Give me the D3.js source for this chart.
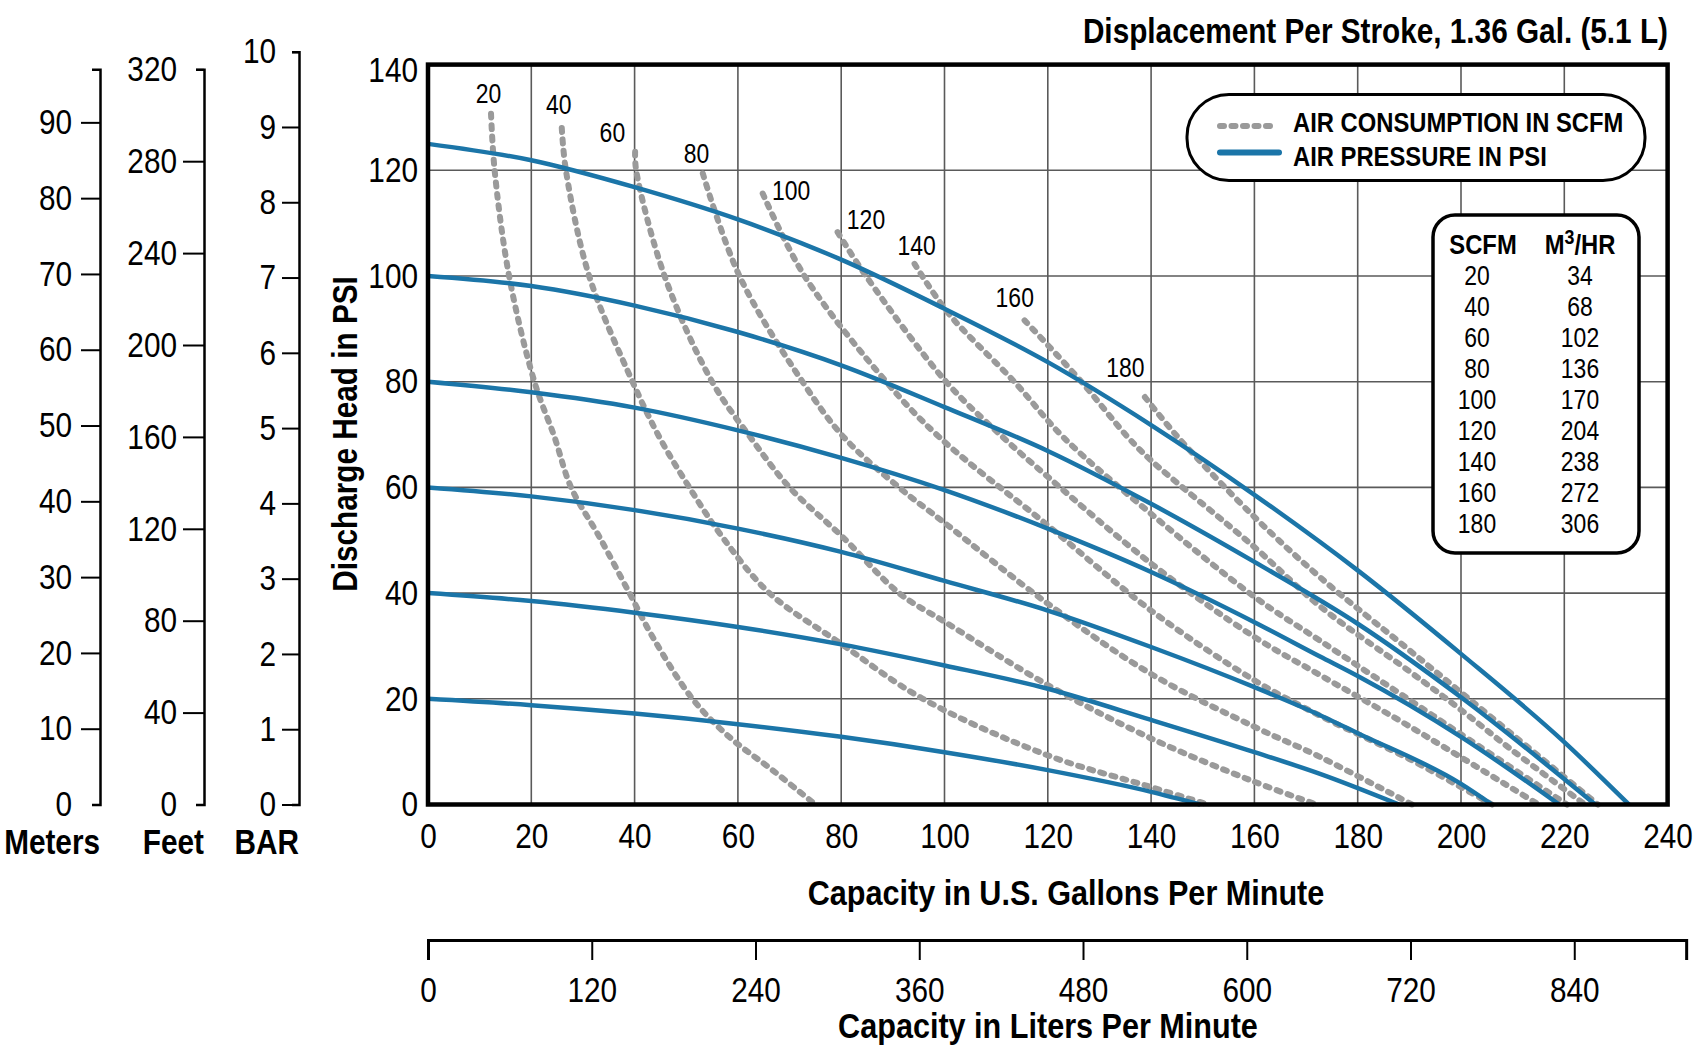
<!DOCTYPE html>
<html>
<head>
<meta charset="utf-8">
<script src="https://cdn.jsdelivr.net/npm/d3@7"></script>
<style>
  body { margin: 0; background: #fff; }
  svg text { font-family: 'Liberation Sans Narrow', 'Arial Narrow', 'Liberation Sans', sans-serif; fill: #000; }
</style>
</head>
<body>
<svg id="chart" width="1697" height="1054"></svg>
<script>
// axis ticks
const gpmTicks = [0, 20, 40, 60, 80, 100, 120, 140, 160, 180, 200, 220, 240]
const psiTicks = [0, 20, 40, 60, 80, 100, 120, 140]
const literTicks = [0, 120, 240, 360, 480, 600, 720, 840]
const meterTicks = [0, 10, 20, 30, 40, 50, 60, 70, 80, 90]
const feetTicks = [0, 40, 80, 120, 160, 200, 240, 280, 320]
const barTicks = [0, 1, 2, 3, 4, 5, 6, 7, 8, 9, 10]

// SCFM -> m3/hr table
const scfmValues = [20, 40, 60, 80, 100, 120, 140, 160, 180]
const m3hrValues = [34, 68, 102, 136, 170, 204, 238, 272, 306]

// air pressure curves, [gpm, psi]
const psi20 = [[0,20],[20,18.8],[40,17.2],[60,15.2],[80,12.8],[100,9.9],[120,6.5],[140,2.4],[149.5,0]]
const psi40 = [[0,40],[20,38.5],[40,36.3],[60,33.6],[80,30.3],[100,26.3],[120,21.9],[140,16],[160,9.9],[172.7,5.8],[188,0]]
const psi60 = [[0,60],[20,58.3],[40,55.7],[60,52.2],[80,47.8],[100,42.3],[120,36.7],[140,29.8],[160,22.2],[172.7,16.9],[180,13.5],[200,3.9],[206,0]]
const psi80 = [[0,80],[20,78],[40,75.1],[60,70.8],[80,65.6],[100,59.5],[120,52.2],[140,44],[160,34.5],[172.7,28],[180,24.3],[200,12.8],[219,0]]
const psi100 = [[0,100],[20,98.1],[40,94.4],[60,89.4],[80,83.1],[100,75.2],[120,66.9],[140,56.9],[160,45.9],[180,34.2],[200,20.3],[226,0]]
const psi125 = [[0,125],[20,121.9],[40,116.8],[60,110.7],[80,103.1],[100,93.8],[120,83.7],[140,71.8],[160,58.6],[180,44.3],[200,28.5],[220,11.8],[232.5,0]]

// air consumption curves, [gpm, psi]
const scfm20 = [[12.2,130.7],[12.9,120],[15.7,100],[20.6,80],[24.5,69.5],[27.7,60],[33.2,50.6],[39,40],[43.5,31.7],[51.2,20],[58.3,12.8],[66.7,6.5],[75,0]]
const scfm40 = [[25.9,128],[26.7,120],[31.2,100],[39.6,80],[44.8,69.5],[50.6,60],[57,50.6],[66.1,40],[80,30.4],[95.8,20],[120,9.3],[140,3.3],[151,0]]
const scfm60 = [[40.1,123.5],[40.3,120],[45.8,100],[55,80],[62.4,69.5],[70,60],[80.3,50.6],[91.2,40],[100,34.6],[120,22.6],[140,12.5],[160,4.3],[172,0]]
const scfm80 = [[53.2,119.4],[60.3,100],[72.5,80],[80.5,69.5],[91.2,60],[100,53.3],[120,38],[140,24.7],[160,14.7],[172.7,9],[190.5,0]]
const scfm100 = [[64.8,115.6],[72.9,100],[88.7,80],[99,69.5],[120,52.8],[140,36.7],[160,23.5],[172.7,16.8],[190,8.6],[206,0]]
const scfm120 = [[79.3,108.3],[84.8,100],[100.3,80],[111.3,69.5],[120,62],[140,45.6],[160,31.7],[172.7,24.5],[190,14.8],[215,0]]
const scfm140 = [[94.2,102.3],[100.7,93],[113.5,80],[123,69.5],[140,55],[160,39.3],[172.7,31],[190,19.8],[200,13.3],[220.5,0]]
const scfm160 = [[115.5,91.6],[126.5,80],[135.5,69.5],[140,65.1],[160,48.7],[172.7,37.5],[190,25.2],[200,17.9],[210,10.2],[224,0]]
const scfm180 = [[138.8,77.1],[145.2,69.5],[160,54.4],[172.7,43],[190,29.2],[200,21.2],[210,13.2],[226.5,0]]

// where each SCFM curve is labelled, [gpm, psi]
const airLabelAt = [[11.7,132.7],[25.3,130.7],[35.7,125.4],[52,121.4],[70.3,114.4],[84.8,108.8],[94.6,103.9],[113.6,94.1],[135,80.9]]

const pressureCurves = [psi20, psi40, psi60, psi80, psi100, psi125]
const airCurves = [scfm20, scfm40, scfm60, scfm80, scfm100, scfm120, scfm140, scfm160, scfm180]

const blue = '#1b75a8'
const grey = '#9a9a9a'
const litersEnd = 922
const narrow = 0.85   // no narrow face installed, squeeze the regular one

const svg = d3.select('#chart')

const x = d3.scaleLinear().domain([0, 240]).range([428, 1667.6])
const y = d3.scaleLinear().domain([0, 140]).range([804.5, 64.6])
const xL = d3.scaleLinear().domain([0, litersEnd]).range([x(0), x(litersEnd / 3.785)])

const meters = d3.scaleLinear().domain([0, 97]).range([804.5, 69.3])
const feet = d3.scaleLinear().domain([0, 320]).range([804.5, 69.3])
const bar = d3.scaleLinear().domain([0, 10]).range([804.5, 51.7])

// grid
const grid = svg.append('g').attr('stroke', '#5a5a5a').attr('stroke-width', 1.6)
grid.selectAll('line.v').data(gpmTicks.slice(1, -1)).enter().append('line')
    .attr('x1', d => x(d)).attr('x2', d => x(d)).attr('y1', y(140)).attr('y2', y(0))
grid.selectAll('line.h').data(psiTicks.slice(1, -1)).enter().append('line')
    .attr('y1', d => y(d)).attr('y2', d => y(d)).attr('x1', x(0)).attr('x2', x(240))

// legend pill
const leg = svg.append('g')
leg.append('rect').attr('x', 1187).attr('y', 94.5).attr('width', 458).attr('height', 86)
    .attr('rx', 42).attr('ry', 42).attr('fill', '#fff').attr('stroke', '#000').attr('stroke-width', 3)
leg.append('line').attr('x1', 1220).attr('x2', 1276).attr('y1', 126).attr('y2', 126)
    .attr('stroke', grey).attr('stroke-width', 6).attr('stroke-dasharray', '4 7.5').attr('stroke-linecap', 'round')
leg.append('line').attr('x1', 1220).attr('x2', 1279).attr('y1', 152.5).attr('y2', 152.5)
    .attr('stroke', blue).attr('stroke-width', 6).attr('stroke-linecap', 'round')
leg.append('text').attr('x', 1293).attr('y', 131.5).attr('font-size', 28).attr('font-weight', 'bold')
    .text('AIR CONSUMPTION IN SCFM')
leg.append('text').attr('x', 1293).attr('y', 165.5).attr('font-size', 28).attr('font-weight', 'bold')
    .text('AIR PRESSURE IN PSI')

// SCFM / M3/HR table
const tbl = svg.append('g')
tbl.append('rect').attr('x', 1433).attr('y', 215).attr('width', 206).attr('height', 338)
    .attr('rx', 22).attr('ry', 22).attr('fill', '#fff').attr('stroke', '#000').attr('stroke-width', 3.5)
tbl.append('text').attr('x', 1483).attr('y', 254).attr('text-anchor', 'middle')
    .attr('font-size', 28).attr('font-weight', 'bold').text('SCFM')
const hdr = tbl.append('text').attr('x', 1580).attr('y', 254).attr('text-anchor', 'middle')
    .attr('font-size', 28).attr('font-weight', 'bold')
hdr.append('tspan').text('M')
hdr.append('tspan').attr('dy', -10).attr('font-size', 21).text('3')
hdr.append('tspan').attr('dy', 10).text('/HR')
tbl.selectAll('text.scfm').data(scfmValues).enter().append('text')
    .attr('x', 1477).attr('y', (d, i) => 285 + i * 31).attr('text-anchor', 'middle').attr('font-size', 27)
    .text(d => d)
tbl.selectAll('text.m3').data(m3hrValues).enter().append('text')
    .attr('x', 1580).attr('y', (d, i) => 285 + i * 31).attr('text-anchor', 'middle').attr('font-size', 27)
    .text(d => d)

// curves
const line = d3.line().x(d => x(d[0])).y(d => y(d[1])).curve(d3.curveMonotoneX)
const airLine = d3.line().x(d => x(d[0])).y(d => y(d[1])).curve(d3.curveCatmullRom.alpha(0.5))

svg.append('g').selectAll('path').data(airCurves).enter().append('path')
    .attr('d', airLine).attr('fill', 'none').attr('stroke', grey).attr('stroke-width', 6)
    .attr('stroke-dasharray', '4 7.5').attr('stroke-linecap', 'round')

svg.append('g').selectAll('path').data(pressureCurves).enter().append('path')
    .attr('d', line).attr('fill', 'none').attr('stroke', blue).attr('stroke-width', 4.5)

svg.append('g').selectAll('text').data(airLabelAt).enter().append('text')
    .attr('x', d => x(d[0])).attr('y', d => y(d[1])).attr('text-anchor', 'middle').attr('font-size', 27)
    .text((d, i) => scfmValues[i])

// plot frame
svg.append('rect').attr('x', x(0)).attr('y', y(140)).attr('width', x(240) - x(0)).attr('height', y(0) - y(140))
    .attr('fill', 'none').attr('stroke', '#000').attr('stroke-width', 4.5)

// main axes, labels only
const xAxis = svg.append('g').attr('transform', `translate(0,${y(0)})`)
    .call(d3.axisBottom(x).tickValues(gpmTicks).tickSize(0).tickPadding(19))
const yAxis = svg.append('g').attr('transform', `translate(${x(0)},0)`)
    .call(d3.axisLeft(y).tickValues(psiTicks).tickSize(0).tickPadding(10))
;[xAxis, yAxis].forEach(g => {
  g.select('.domain').remove()
  g.attr('font-family', null).attr('font-size', null)
  g.selectAll('text').attr('font-size', 35)
})
// top label sits a little under the frame
yAxis.selectAll('.tick text').filter(d => d === 140).attr('y', 6)

// liters axis
const litAxis = svg.append('g').attr('transform', 'translate(0,940)')
    .call(d3.axisBottom(xL).tickValues(literTicks).tickSizeInner(20).tickSizeOuter(20).tickPadding(17))
litAxis.attr('font-family', null).attr('font-size', null)
litAxis.select('.domain').attr('stroke-width', 3)
litAxis.selectAll('.tick line').attr('stroke-width', 2)
litAxis.selectAll('text').attr('font-size', 35)

// meters / feet / bar
function sideAxis(scale, ticks, xPos, inner, outer, pad, shortVals, title) {
  const g = svg.append('g').attr('transform', `translate(${xPos},0)`)
      .call(d3.axisLeft(scale).tickValues(ticks).tickSizeInner(inner).tickSizeOuter(outer).tickPadding(pad))
  g.attr('font-family', null).attr('font-size', null)
  g.select('.domain').attr('stroke-width', 2.5)
  g.selectAll('.tick line').attr('stroke-width', 2).attr('x2', d => shortVals.includes(d) ? -outer : -inner)
  g.selectAll('text').attr('font-size', 35)
  g.append('text').attr('x', 0).attr('y', 854).attr('text-anchor', 'end')
      .attr('font-size', 35).attr('font-weight', 'bold').attr('fill', '#000').text(title)
}
sideAxis(meters, meterTicks, 100, 19, 8, 9, [0], 'Meters')
sideAxis(feet, feetTicks, 204, 21, 8, 6, [0, 320], 'Feet')
sideAxis(bar, barTicks, 299, 17, 7, 6, [10], 'BAR')

// titles
svg.append('text').attr('x', 1668).attr('y', 43).attr('text-anchor', 'end')
    .attr('font-size', 35).attr('font-weight', 'bold').text('Displacement Per Stroke, 1.36 Gal. (5.1 L)')
svg.append('text').attr('x', 1066).attr('y', 905).attr('text-anchor', 'middle')
    .attr('font-size', 36).attr('font-weight', 'bold').text('Capacity in U.S. Gallons Per Minute')
svg.append('text').attr('x', 1048).attr('y', 1038).attr('text-anchor', 'middle')
    .attr('font-size', 36).attr('font-weight', 'bold').text('Capacity in Liters Per Minute')
svg.append('text').attr('transform', 'translate(357,434) rotate(-90)').attr('text-anchor', 'middle')
    .attr('font-size', 35).attr('font-weight', 'bold').text('Discharge Head in PSI')

// condense every text around its own anchor point
svg.selectAll('text').each(function() {
  const t = d3.select(this)
  const tx = +t.attr('x') || 0
  const ty = +t.attr('y') || 0
  const tr = t.attr('transform') || ''
  t.attr('x', null).attr('y', null)
   .attr('transform', `${tr} translate(${tx},${ty}) scale(${narrow},1)`)
})
</script>
</body>
</html>
